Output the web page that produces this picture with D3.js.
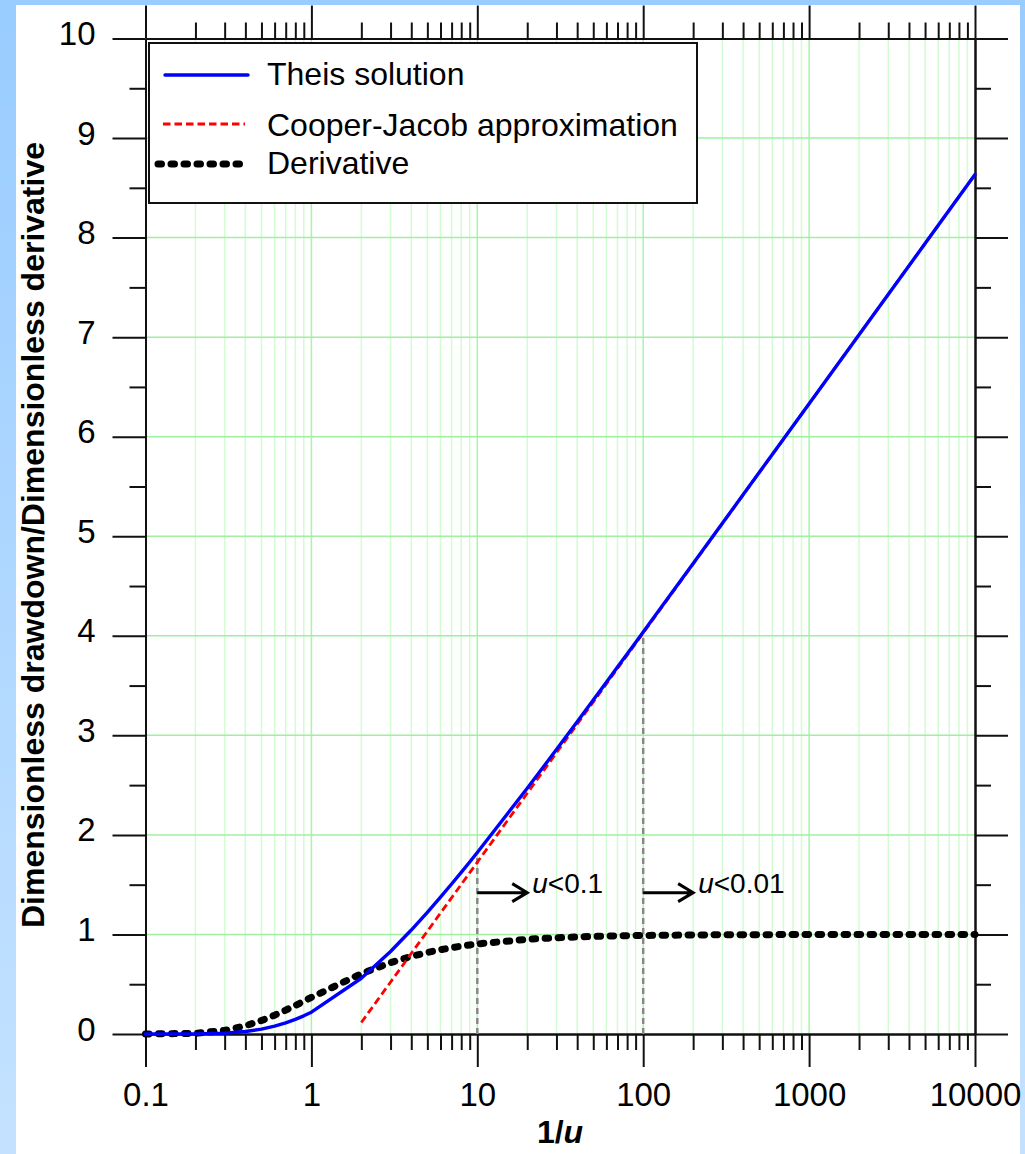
<!DOCTYPE html>
<html>
<head>
<meta charset="utf-8">
<script src="https://cdn.jsdelivr.net/npm/d3@7"></script>
<style>
body { margin: 0; }
svg text { font-family: Arial, "Liberation Sans", sans-serif; }
</style>
</head>
<body>
<svg id="chart" width="1025" height="1154"></svg>
<script>
// values (x = 1/u)
var theisX = [0.1,0.2,0.3,0.4,0.5,0.6,0.7,0.8,0.9,1,2,3,4,5,6,7,8,9,10,20,30,40,50,60,70,80,90,100,200,500,1000,2000,5000,10000];
var theisY = [0.0000,0.0011,0.0086,0.0249,0.0489,0.0783,0.1113,0.1465,0.1826,0.2194,0.5598,0.8289,1.0443,1.2227,1.3745,1.5066,1.6234,1.7281,1.8229,2.4679,2.8570,3.1365,3.3547,3.5337,3.6855,3.8173,3.9337,4.0379,4.7261,5.6394,6.3316,7.0242,7.9402,8.6332];
var derivX = [0.1,0.2,0.3,0.4,0.5,0.6,0.7,0.8,0.9,1,2,3,4,5,6,7,8,9,10,20,30,40,50,70,100,200,500,1000,10000];
var derivY = [0.0000,0.0067,0.0357,0.0821,0.1353,0.1889,0.2397,0.2865,0.3292,0.3679,0.6065,0.7165,0.7788,0.8187,0.8465,0.8669,0.8825,0.8948,0.9048,0.9512,0.9672,0.9753,0.9802,0.9858,0.9900,0.9950,0.9980,0.9990,0.9999];
var cooperX = [2,10,100,1000,10000];
var cooperY = [0.1159,1.7254,4.0280,6.3306,8.6331];

// u limits marked on the plot
var refX = [10,100];
var refTop = [1.8229,4.0379];
var arrowEnd = [20,200];
var arrowY = 1.42;
var refLabels = ["<0.1","<0.01"];

var xMajor = [0.1,1,10,100,1000,10000];
var xLabels = ["0.1","1","10","100","1000","10000"];
var yMajor = [0,1,2,3,4,5,6,7,8,9,10];
var yMinor = [0.5,1.5,2.5,3.5,4.5,5.5,6.5,7.5,8.5,9.5];
var legendLabels = ["Theis solution","Cooper-Jacob approximation","Derivative"];

var W = 1025, H = 1154;
var svg = d3.select("#chart");

// light blue frame round the white page
var grad = svg.append("defs").append("linearGradient")
    .attr("id","bg").attr("x1",0).attr("y1",0).attr("x2",0).attr("y2",1);
grad.append("stop").attr("offset","0%").attr("stop-color","#99ccff");
grad.append("stop").attr("offset","100%").attr("stop-color","#c4e2ff");
svg.append("rect").attr("width",W).attr("height",H).attr("fill","url(#bg)");
svg.append("rect").attr("x",16).attr("y",5).attr("width",1004).attr("height",H-5).attr("fill","#fff");

var x = d3.scaleLog().domain([0.1,10000]).range([145.5,975]);
var y = d3.scaleLinear().domain([0,10]).range([1034,38.5]);

function isMajor(d) {
    var l = Math.log10(d);
    return Math.abs(l - Math.round(l)) < 1e-9;
}
var xMinor = x.ticks().filter(function(d) { return !isMajor(d); });

// grid
var grid = svg.append("g");
grid.selectAll(".vmin").data(xMinor).enter().append("line")
    .attr("x1", function(d) { return x(d); }).attr("x2", function(d) { return x(d); })
    .attr("y1", y(0)).attr("y2", y(10))
    .attr("stroke","#d2fcd2").attr("stroke-width",1.5);
grid.selectAll(".vmaj").data(xMajor.slice(1,-1)).enter().append("line")
    .attr("x1", function(d) { return x(d); }).attr("x2", function(d) { return x(d); })
    .attr("y1", y(0)).attr("y2", y(10))
    .attr("stroke","#a8f5a8").attr("stroke-width",1.5);
grid.selectAll(".hmaj").data(yMajor.slice(1,-1)).enter().append("line")
    .attr("x1", x(0.1)).attr("x2", x(10000))
    .attr("y1", function(d) { return y(d); }).attr("y2", function(d) { return y(d); })
    .attr("stroke","#a0f0a0").attr("stroke-width",1.5);

// axes on all four sides, ticks pointing out
function styleAxis(g) {
    g.selectAll("path, line").attr("stroke","#111").attr("stroke-width",2);
    g.attr("font-size",33).attr("font-family",null);
    g.selectAll("text").attr("fill","#000");
}
svg.append("g").attr("transform","translate(0," + y(0) + ")")
    .call(d3.axisBottom(x).tickValues(xMinor).tickSize(16).tickSizeOuter(0).tickFormat(""))
    .call(styleAxis);
svg.append("g").attr("transform","translate(0," + y(0) + ")")
    .call(d3.axisBottom(x).tickValues(xMajor).tickSize(33).tickSizeOuter(0).tickPadding(16)
        .tickFormat(function(d, i) { return xLabels[i]; }))
    .call(styleAxis);
svg.append("g").attr("transform","translate(0," + y(10) + ")")
    .call(d3.axisTop(x).tickValues(xMinor).tickSize(16).tickSizeOuter(0).tickFormat(""))
    .call(styleAxis);
svg.append("g").attr("transform","translate(0," + y(10) + ")")
    .call(d3.axisTop(x).tickValues(xMajor).tickSize(33).tickSizeOuter(0).tickFormat(""))
    .call(styleAxis);
svg.append("g").attr("transform","translate(" + x(0.1) + ",0)")
    .call(d3.axisLeft(y).tickValues(yMinor).tickSize(16).tickSizeOuter(0).tickFormat(""))
    .call(styleAxis);
svg.append("g").attr("transform","translate(" + x(0.1) + ",0)")
    .call(d3.axisLeft(y).tickValues(yMajor).tickSize(33).tickSizeOuter(0).tickPadding(17)
        .tickFormat(d3.format("d")))
    .call(styleAxis)
    .selectAll("text").attr("dy","6px");
svg.append("g").attr("transform","translate(" + x(10000) + ",0)")
    .call(d3.axisRight(y).tickValues(yMinor).tickSize(16).tickSizeOuter(0).tickFormat(""))
    .call(styleAxis);
svg.append("g").attr("transform","translate(" + x(10000) + ",0)")
    .call(d3.axisRight(y).tickValues(yMajor).tickSize(33).tickSizeOuter(0).tickFormat(""))
    .call(styleAxis);

// dashed u limits
svg.selectAll(".ref").data(refX).enter().append("line")
    .attr("x1", function(d) { return x(d); }).attr("x2", function(d) { return x(d); })
    .attr("y1", y(0)).attr("y2", function(d, i) { return y(refTop[i]); })
    .attr("stroke","#888").attr("stroke-width",2.5).attr("stroke-dasharray","6 4");

var line = d3.line()
    .x(function(d) { return x(d[0]); })
    .y(function(d) { return y(d[1]); });

var derivStyle = {stroke:"#000", width:7, dash:"3.5 9.5", cap:"round"};
var cooperStyle = {stroke:"#ff0000", width:2.8, dash:"7.5 4", cap:"butt"};
var theisStyle = {stroke:"#0000ff", width:3.4, dash:null, cap:"round"};

function drawSeries(xs, ys, st) {
    svg.append("path")
        .datum(d3.zip(xs, ys))
        .attr("d", line)
        .attr("fill","none")
        .attr("stroke", st.stroke)
        .attr("stroke-width", st.width)
        .attr("stroke-dasharray", st.dash)
        .attr("stroke-linecap", st.cap)
        .attr("stroke-linejoin","round");
}
drawSeries(derivX, derivY, derivStyle);
drawSeries(cooperX, cooperY, cooperStyle);
drawSeries(theisX, theisY, theisStyle);

// arrows + u<... labels
refX.forEach(function(d, i) {
    var x0 = x(d), x1 = x(arrowEnd[i]), yy = y(arrowY);
    svg.append("path")
        .attr("d", "M" + x0 + "," + yy + "H" + x1 + "M" + (x1 - 15) + "," + (yy - 9) + "L" + x1 + "," + yy + "L" + (x1 - 15) + "," + (yy + 9))
        .attr("fill","none").attr("stroke","#000").attr("stroke-width",3);
    var t = svg.append("text").attr("x", x1 + 5).attr("y", yy).attr("font-size",28);
    t.append("tspan").attr("font-style","italic").text("u");
    t.append("tspan").text(refLabels[i]);
});

// legend
var lg = svg.append("g");
lg.append("rect").attr("x",149).attr("y",43).attr("width",548).attr("height",160)
    .attr("fill","#fff").attr("stroke","#111").attr("stroke-width",2);
var legendY = [75, 124, 164];
var legendBase = [85, 136, 174];
var legendStart = [165, 163, 158];
var legendEnd = [248, 245, 241];
var legendStyles = [theisStyle, cooperStyle, derivStyle];
legendLabels.forEach(function(lbl, i) {
    var st = legendStyles[i];
    lg.append("line")
        .attr("x1", legendStart[i]).attr("x2", legendEnd[i])
        .attr("y1", legendY[i]).attr("y2", legendY[i])
        .attr("stroke", st.stroke).attr("stroke-width", st.width)
        .attr("stroke-dasharray", st.dash).attr("stroke-linecap", st.cap);
    lg.append("text").attr("x",267).attr("y",legendBase[i]).attr("font-size",32).text(lbl);
});

// axis titles
svg.append("text")
    .attr("transform","translate(44,535) rotate(-90)")
    .attr("text-anchor","middle").attr("font-size",32).attr("font-weight","bold")
    .text("Dimensionless drawdown/Dimensionless derivative");
var xt = svg.append("text").attr("x",560).attr("y",1143)
    .attr("text-anchor","middle").attr("font-size",32).attr("font-weight","bold");
xt.append("tspan").text("1/");
xt.append("tspan").attr("font-style","italic").text("u");
</script>
</body>
</html>
